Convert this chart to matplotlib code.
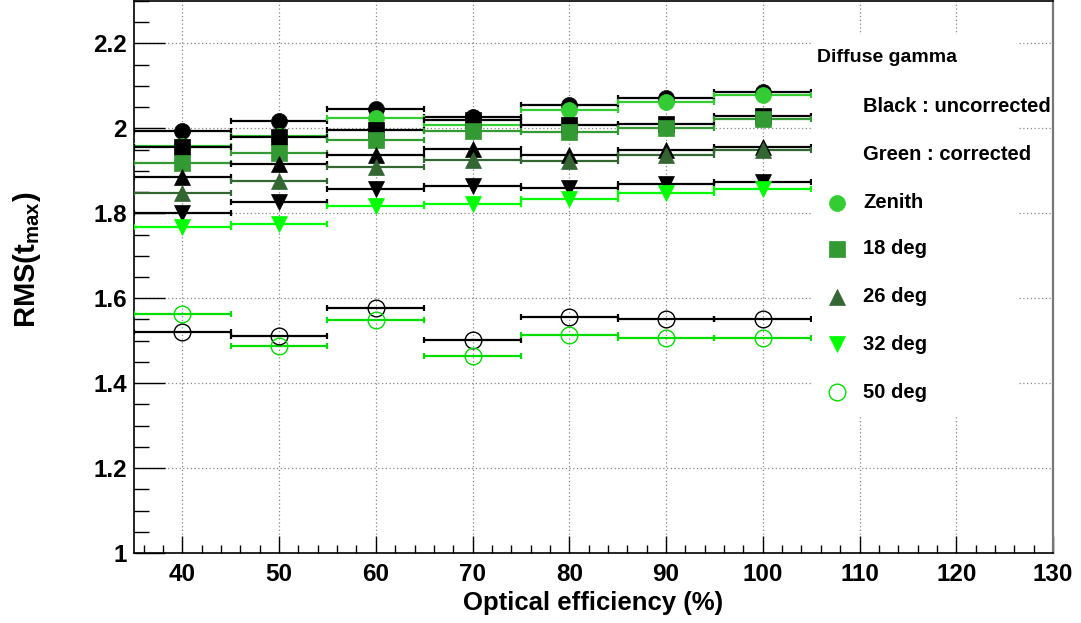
import matplotlib
matplotlib.use("Agg")
import matplotlib.pyplot as plt
from matplotlib.patches import Rectangle
from matplotlib.lines import Line2D

plt.rcParams["font.family"] = ["Liberation Sans", "DejaVu Sans"]
plt.rcParams["font.weight"] = "bold"
plt.rcParams["mathtext.fontset"] = "custom"
plt.rcParams["mathtext.rm"] = "Liberation Sans:bold"
plt.rcParams["mathtext.it"] = "Liberation Sans:bold"
plt.rcParams["mathtext.bf"] = "Liberation Sans:bold"

# ── data ──
eff = [40, 50, 60, 70, 80, 90, 100]
eff_err = 5

zen_unc = [1.993, 2.017, 2.045, 2.027, 2.056, 2.071, 2.085]
zen_cor = [1.958, 1.983, 2.024, 2.008, 2.044, 2.061, 2.078]
d18_unc = [1.955, 1.980, 1.997, 2.019, 2.007, 2.011, 2.028]
d18_cor = [1.918, 1.943, 1.973, 1.994, 1.991, 2.002, 2.023]
d26_unc = [1.885, 1.916, 1.937, 1.951, 1.937, 1.949, 1.955]
d26_cor = [1.847, 1.876, 1.909, 1.925, 1.923, 1.937, 1.949]
d32_unc = [1.800, 1.826, 1.857, 1.864, 1.860, 1.870, 1.874]
d32_cor = [1.767, 1.775, 1.818, 1.823, 1.833, 1.849, 1.857]
d50_unc = [1.521, 1.511, 1.577, 1.501, 1.556, 1.551, 1.551]
d50_cor = [1.563, 1.487, 1.548, 1.465, 1.514, 1.506, 1.506]

labels = ["Zenith", "18 deg", "26 deg", "32 deg", "50 deg"]
markers = ["o", "s", "^", "v", "o"]
green_cols = ["#33cc33", "#339933", "#336633", "#00ff00", "#00dd00"]
unc_sets = [zen_unc, d18_unc, d26_unc, d32_unc, d50_unc]
cor_sets = [zen_cor, d18_cor, d26_cor, d32_cor, d50_cor]

W, H = 1081, 623
fig = plt.figure(figsize=(W / 100, H / 100), dpi=100)
ax = fig.add_axes([134 / W, (H - 553) / H, (1053 - 134) / W, 552 / H])


def fx(px):
    return px / W


def fy(py):
    return 1 - py / H


for i in range(5):
    hollow = i == 4
    for vals, col in ((unc_sets[i], "black"), (cor_sets[i], green_cols[i])):
        ax.errorbar(eff, vals, xerr=eff_err, fmt="none", ecolor=col,
                    elinewidth=1.6, capsize=2.5, capthick=1.6, zorder=3)
        if hollow:
            ax.plot(eff, vals, ls="none", marker="o", ms=12, mfc="none",
                    mec=col, mew=1.0, zorder=4)
        else:
            ax.plot(eff, vals, ls="none", marker=markers[i], ms=11.5,
                    mfc=col, mec=col, mew=0.5, zorder=4)

ax.set_xlim(35, 130)
ax.set_ylim(1, 2.3)
ax.set_xticks(range(40, 131, 10))
ax.set_xticks(range(36, 131, 2), minor=True)
ax.set_yticks([1, 1.2, 1.4, 1.6, 1.8, 2, 2.2])
ax.set_yticklabels(["1", "1.2", "1.4", "1.6", "1.8", "2", "2.2"])
ax.set_yticks([1 + 0.05 * k for k in range(27)], minor=True)
ax.grid(True, which="major", color="#888888", ls=(0, (1, 2)), lw=0.9)
ax.tick_params(axis="both", which="both", direction="in", top=False, right=False,
               labelsize=17.5, colors="black")
ax.tick_params(axis="y", which="major", length=22, width=1, pad=5)
ax.tick_params(axis="y", which="minor", length=11, width=1)
ax.tick_params(axis="x", which="major", length=12, width=1, pad=7)
ax.tick_params(axis="x", which="minor", length=6, width=1)
for lab in ax.get_xticklabels() + ax.get_yticklabels():
    lab.set_fontweight("bold")
ax.spines["right"].set_color("#777777")
ax.spines["right"].set_linewidth(1.6)
for s in ("left", "bottom", "top"):
    ax.spines[s].set_linewidth(1.2)

fig.text(fx(593), fy(603), "Optical efficiency (%)", ha="center", va="center",
         fontsize=18.5, fontweight="bold")
fig.text(fx(27), fy(260), r"RMS(t$_{\rm max}$)", ha="center", va="center",
         rotation=90, fontsize=21, fontweight="bold")

# ── legend box ──
fig.add_artist(Rectangle((fx(812), fy(415)), fx(1017) - fx(812), fy(35) - fy(415),
                         transform=fig.transFigure, facecolor="white",
                         edgecolor="none", zorder=5))
fig.text(fx(817), fy(57), "Diffuse gamma", ha="left", va="center",
         fontsize=14, fontweight="bold", zorder=6)
fig.text(fx(863), fy(107), "Black : uncorrected", ha="left", va="center",
         fontsize=14.5, fontweight="bold", zorder=6)
fig.text(fx(863), fy(155), "Green : corrected", ha="left", va="center",
         fontsize=14.5, fontweight="bold", zorder=6)
leg_y = [203, 249, 297, 344, 392]
for i in range(5):
    if i == 4:
        mk = Line2D([fx(837)], [fy(leg_y[i])], ls="none", marker="o", ms=12,
                    mfc="none", mec=green_cols[i], mew=1.0,
                    transform=fig.transFigure, zorder=6)
    else:
        mk = Line2D([fx(837)], [fy(leg_y[i])], ls="none", marker=markers[i], ms=11.5,
                    mfc=green_cols[i], mec=green_cols[i], mew=0.5,
                    transform=fig.transFigure, zorder=6)
    fig.add_artist(mk)
    fig.text(fx(863), fy(leg_y[i]), labels[i], ha="left", va="center",
             fontsize=14.5, fontweight="bold", zorder=6)

fig.savefig("out.png", dpi=100)
